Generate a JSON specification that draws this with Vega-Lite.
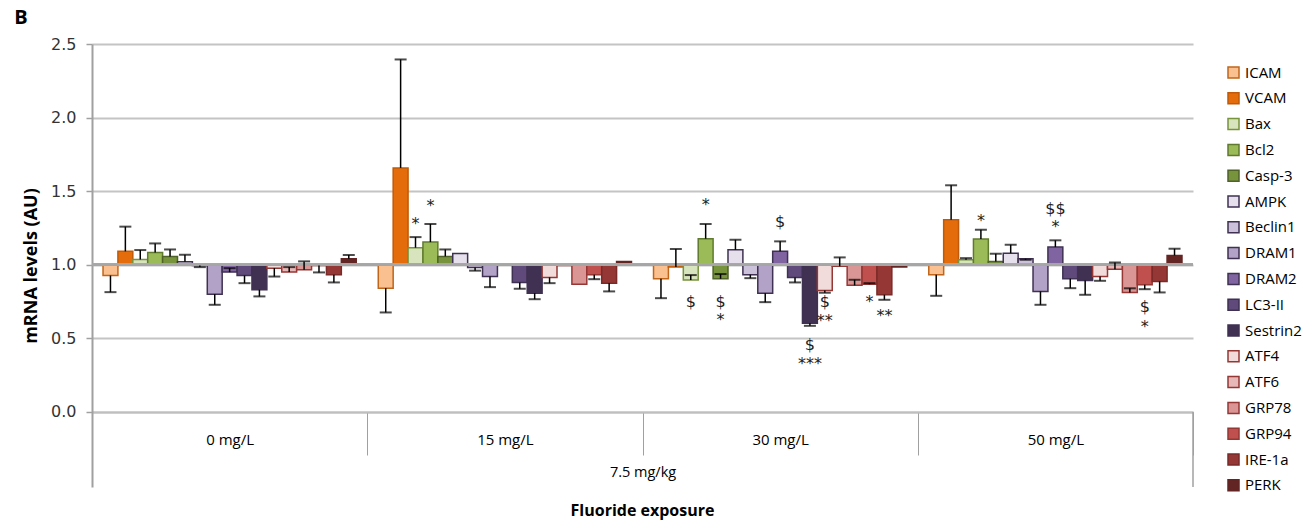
{
  "$schema": "https://vega.github.io/schema/vega-lite/v6.json",
  "width": 1101,
  "height": 443,
  "autosize": "none",
  "padding": {"left": 92, "top": 44, "right": 122, "bottom": 44},
  "background": "white",
  "config": {"view": {"stroke": null}},
  "title": {"text": "Fluoride exposure", "orient": "bottom", "anchor": "middle", "frame": "group", "font": "Open Sans", "fontSize": 16, "fontWeight": "bold", "color": "#000000", "offset": 9},
  "data": {"values": [
    {"g": "0 mg/L", "gene": "ICAM", "v": 0.927, "e": 0.814},
    {"g": "0 mg/L", "gene": "VCAM", "v": 1.091, "e": 1.259},
    {"g": "0 mg/L", "gene": "Bax", "v": 1.036, "e": 1.10},
    {"g": "0 mg/L", "gene": "Bcl2", "v": 1.084, "e": 1.145},
    {"g": "0 mg/L", "gene": "Casp-3", "v": 1.057, "e": 1.104},
    {"g": "0 mg/L", "gene": "AMPK", "v": 1.02, "e": 1.068},
    {"g": "0 mg/L", "gene": "Beclin1", "v": 0.995, "e": 0.984},
    {"g": "0 mg/L", "gene": "DRAM1", "v": 0.80, "e": 0.728},
    {"g": "0 mg/L", "gene": "DRAM2", "v": 0.95, "e": 0.977},
    {"g": "0 mg/L", "gene": "LC3-II", "v": 0.927, "e": 0.875},
    {"g": "0 mg/L", "gene": "Sestrin2", "v": 0.83, "e": 0.785},
    {"g": "0 mg/L", "gene": "ATF4", "v": 0.977, "e": 0.92},
    {"g": "0 mg/L", "gene": "ATF6", "v": 0.95, "e": 0.984},
    {"g": "0 mg/L", "gene": "GRP78", "v": 0.966, "e": 1.023},
    {"g": "0 mg/L", "gene": "GRP94", "v": 0.995, "e": 0.948},
    {"g": "0 mg/L", "gene": "IRE-1a", "v": 0.932, "e": 0.88},
    {"g": "0 mg/L", "gene": "PERK", "v": 1.041, "e": 1.066},
    {"g": "15 mg/L", "gene": "ICAM", "v": 0.841, "e": 0.676},
    {"g": "15 mg/L", "gene": "VCAM", "v": 1.658, "e": 2.395},
    {"g": "15 mg/L", "gene": "Bax", "v": 1.116, "e": 1.188},
    {"g": "15 mg/L", "gene": "Bcl2", "v": 1.154, "e": 1.277},
    {"g": "15 mg/L", "gene": "Casp-3", "v": 1.057, "e": 1.104},
    {"g": "15 mg/L", "gene": "AMPK", "v": 1.077, "e": null},
    {"g": "15 mg/L", "gene": "Beclin1", "v": 0.982, "e": 0.96},
    {"g": "15 mg/L", "gene": "DRAM1", "v": 0.92, "e": 0.848},
    {"g": "15 mg/L", "gene": "DRAM2", "v": 1.0, "e": null},
    {"g": "15 mg/L", "gene": "LC3-II", "v": 0.88, "e": 0.837},
    {"g": "15 mg/L", "gene": "Sestrin2", "v": 0.807, "e": 0.766},
    {"g": "15 mg/L", "gene": "ATF4", "v": 0.914, "e": 0.875},
    {"g": "15 mg/L", "gene": "ATF6", "v": 0.995, "e": null},
    {"g": "15 mg/L", "gene": "GRP78", "v": 0.868, "e": null},
    {"g": "15 mg/L", "gene": "GRP94", "v": 0.932, "e": 0.902},
    {"g": "15 mg/L", "gene": "IRE-1a", "v": 0.875, "e": 0.819},
    {"g": "15 mg/L", "gene": "PERK", "v": 1.023, "e": null},
    {"g": "30 mg/L", "gene": "ICAM", "v": 0.905, "e": 0.773},
    {"g": "30 mg/L", "gene": "VCAM", "v": 0.985, "e": 1.107},
    {"g": "30 mg/L", "gene": "Bax", "v": 0.896, "e": 0.93},
    {"g": "30 mg/L", "gene": "Bcl2", "v": 1.177, "e": 1.277},
    {"g": "30 mg/L", "gene": "Casp-3", "v": 0.905, "e": 0.937},
    {"g": "30 mg/L", "gene": "AMPK", "v": 1.102, "e": 1.17},
    {"g": "30 mg/L", "gene": "Beclin1", "v": 0.932, "e": 0.909},
    {"g": "30 mg/L", "gene": "DRAM1", "v": 0.807, "e": 0.746},
    {"g": "30 mg/L", "gene": "DRAM2", "v": 1.091, "e": 1.159},
    {"g": "30 mg/L", "gene": "LC3-II", "v": 0.914, "e": 0.88},
    {"g": "30 mg/L", "gene": "Sestrin2", "v": 0.603, "e": 0.585},
    {"g": "30 mg/L", "gene": "ATF4", "v": 0.825, "e": 0.81},
    {"g": "30 mg/L", "gene": "ATF6", "v": 0.99, "e": 1.05},
    {"g": "30 mg/L", "gene": "GRP78", "v": 0.86, "e": 0.898},
    {"g": "30 mg/L", "gene": "GRP94", "v": 0.868, "e": 0.875},
    {"g": "30 mg/L", "gene": "IRE-1a", "v": 0.796, "e": 0.762},
    {"g": "30 mg/L", "gene": "PERK", "v": 0.985, "e": null},
    {"g": "50 mg/L", "gene": "ICAM", "v": 0.932, "e": 0.789},
    {"g": "50 mg/L", "gene": "VCAM", "v": 1.306, "e": 1.54},
    {"g": "50 mg/L", "gene": "Bax", "v": 1.034, "e": 1.045},
    {"g": "50 mg/L", "gene": "Bcl2", "v": 1.175, "e": 1.238},
    {"g": "50 mg/L", "gene": "Casp-3", "v": 1.023, "e": 1.075},
    {"g": "50 mg/L", "gene": "AMPK", "v": 1.079, "e": 1.136},
    {"g": "50 mg/L", "gene": "Beclin1", "v": 1.041, "e": 1.034},
    {"g": "50 mg/L", "gene": "DRAM1", "v": 0.819, "e": 0.728},
    {"g": "50 mg/L", "gene": "DRAM2", "v": 1.12, "e": 1.166},
    {"g": "50 mg/L", "gene": "LC3-II", "v": 0.905, "e": 0.841},
    {"g": "50 mg/L", "gene": "Sestrin2", "v": 0.893, "e": 0.796},
    {"g": "50 mg/L", "gene": "ATF4", "v": 0.921, "e": 0.891},
    {"g": "50 mg/L", "gene": "ATF6", "v": 0.97, "e": 1.016},
    {"g": "50 mg/L", "gene": "GRP78", "v": 0.812, "e": 0.84},
    {"g": "50 mg/L", "gene": "GRP94", "v": 0.864, "e": 0.834},
    {"g": "50 mg/L", "gene": "IRE-1a", "v": 0.887, "e": 0.812},
    {"g": "50 mg/L", "gene": "PERK", "v": 1.063, "e": 1.109}
  ]},
  "encoding": {
    "x": {
      "field": "g", "type": "nominal",
      "scale": {"domain": ["0 mg/L", "15 mg/L", "30 mg/L", "50 mg/L"], "paddingInner": 0, "paddingOuter": 0},
      "axis": {
        "title": "7.5 mg/kg", "titleFont": "Open Sans", "titleFontSize": 14.5, "titleFontWeight": "normal", "titleColor": "#000000", "titlePadding": 10,
        "offset": -75, "orient": "bottom", "labelAngle": 0,
        "labelFont": "Open Sans", "labelFontSize": 15, "labelColor": "#000000", "labelPadding": -23, "labelBaseline": "top",
        "tickBand": "extent", "tickSize": 43, "tickColor": "#A0A0A0", "tickWidth": 1,
        "domainColor": "#BFBFBF", "domainWidth": 2, "grid": false
      }
    },
    "xOffset": {
      "field": "gene", "type": "nominal",
      "scale": {"domain": ["ICAM", "VCAM", "Bax", "Bcl2", "Casp-3", "AMPK", "Beclin1", "DRAM1", "DRAM2", "LC3-II", "Sestrin2", "ATF4", "ATF6", "GRP78", "GRP94", "IRE-1a", "PERK"], "paddingInner": 0, "paddingOuter": 0.74}
    }
  },
  "layer": [
    {
      "mark": {"type": "bar", "strokeWidth": 1.5},
      "encoding": {
        "y": {
          "field": "v", "type": "quantitative",
          "scale": {"domain": [-0.51, 2.5], "nice": false, "zero": false},
          "axis": {
            "title": "mRNA levels (AU)", "titleFont": "Open Sans", "titleFontSize": 18, "titleFontWeight": "bold", "titleColor": "#000000", "titlePadding": 10,
            "values": [0, 0.5, 1, 1.5, 2, 2.5], "format": ".1f",
            "labelFont": "DejaVu Sans", "labelFontSize": 16, "labelColor": "#333333", "labelPadding": 10,
            "tickSize": 6, "tickColor": "#A0A0A0", "tickWidth": 1.5,
            "domainColor": "#A0A0A0", "domainWidth": 2,
            "grid": true, "gridColor": "#C4C4C4", "gridWidth": 2
          }
        },
        "y2": {"datum": 1},
        "fill": {
          "field": "gene", "type": "nominal",
          "scale": {"domain": ["ICAM", "VCAM", "Bax", "Bcl2", "Casp-3", "AMPK", "Beclin1", "DRAM1", "DRAM2", "LC3-II", "Sestrin2", "ATF4", "ATF6", "GRP78", "GRP94", "IRE-1a", "PERK"],
                    "range": ["#FAC090", "#E46C0A", "#D7E4BD", "#9BBB59", "#77933C", "#E6E0EC", "#CCC1DA", "#B3A2C7", "#8064A2", "#604A7B", "#403152", "#F2DCDB", "#E6B9B8", "#D99694", "#C0504D", "#953735", "#632523"]},
          "legend": {"title": null, "orient": "none", "legendX": 1134, "legendY": 21, "symbolType": "square", "symbolSize": 121, "symbolStrokeWidth": 1.5, "labelFont": "Open Sans", "labelFontSize": 15, "labelColor": "#000000", "labelOffset": 4, "rowPadding": 8.8}
        },
        "stroke": {
          "field": "gene", "type": "nominal",
          "scale": {"domain": ["ICAM", "VCAM", "Bax", "Bcl2", "Casp-3", "AMPK", "Beclin1", "DRAM1", "DRAM2", "LC3-II", "Sestrin2", "ATF4", "ATF6", "GRP78", "GRP94", "IRE-1a", "PERK"],
                    "range": ["#C0651A", "#C05A0A", "#77933C", "#5F7A2E", "#4F6228", "#3F3151", "#3F3151", "#3F3151", "#3F3151", "#3F3151", "#3F3151", "#953735", "#953735", "#953735", "#953735", "#7A2A28", "#632523"]},
          "legend": {"title": null, "orient": "none", "legendX": 1134, "legendY": 21, "symbolType": "square", "symbolSize": 121, "symbolStrokeWidth": 1.5, "labelFont": "Open Sans", "labelFontSize": 15, "labelColor": "#000000", "labelOffset": 4, "rowPadding": 8.8}
        }
      }
    },
    {
      "mark": {"type": "rule", "color": "#A6A6A6", "strokeWidth": 2},
      "encoding": {"y": {"datum": 1}, "x": null, "xOffset": null}
    },
    {
      "mark": {"type": "rule", "color": "#000000", "strokeWidth": 1.5},
      "encoding": {"y": {"field": "v", "type": "quantitative"}, "y2": {"field": "e"}}
    },
    {
      "mark": {"type": "tick", "color": "#000000", "thickness": 2, "size": 12, "orient": "horizontal"},
      "encoding": {"y": {"field": "e", "type": "quantitative"}}
    },
    {
      "data": {"values": [
        {"g": "15 mg/L", "gene": "Bax", "t": "*", "y": 1.277},
        {"g": "15 mg/L", "gene": "Bcl2", "t": "*", "y": 1.40},
        {"g": "30 mg/L", "gene": "Bax", "t": "$", "y": 0.748},
        {"g": "30 mg/L", "gene": "Bcl2", "t": "*", "y": 1.408},
        {"g": "30 mg/L", "gene": "Casp-3", "t": "$", "y": 0.748},
        {"g": "30 mg/L", "gene": "Casp-3", "t": "*", "y": 0.626},
        {"g": "30 mg/L", "gene": "DRAM2", "t": "$", "y": 1.29},
        {"g": "30 mg/L", "gene": "Sestrin2", "t": "$", "y": 0.456},
        {"g": "30 mg/L", "gene": "Sestrin2", "t": "***", "y": 0.327},
        {"g": "30 mg/L", "gene": "ATF4", "t": "$", "y": 0.748},
        {"g": "30 mg/L", "gene": "ATF4", "t": "**", "y": 0.619},
        {"g": "30 mg/L", "gene": "GRP94", "t": "*", "y": 0.75},
        {"g": "30 mg/L", "gene": "IRE-1a", "t": "**", "y": 0.655},
        {"g": "50 mg/L", "gene": "Bcl2", "t": "*", "y": 1.295},
        {"g": "50 mg/L", "gene": "DRAM2", "t": "$$", "y": 1.379},
        {"g": "50 mg/L", "gene": "DRAM2", "t": "*", "y": 1.256},
        {"g": "50 mg/L", "gene": "GRP94", "t": "$", "y": 0.712},
        {"g": "50 mg/L", "gene": "GRP94", "t": "*", "y": 0.58}
      ]},
      "mark": {"type": "text", "font": "DejaVu Sans", "fontSize": 16, "fill": "#222222", "baseline": "middle", "align": "center"},
      "encoding": {"y": {"field": "y", "type": "quantitative"}, "text": {"field": "t"}}
    },
    {
      "data": {"values": [{"g": "50 mg/L", "lo": 0, "hi": -0.51}]},
      "mark": {"type": "rule", "color": "#A0A0A0", "strokeWidth": 1.5},
      "encoding": {"x": {"field": "g", "type": "nominal", "bandPosition": 1}, "xOffset": null, "y": {"field": "lo", "type": "quantitative"}, "y2": {"field": "hi"}}
    },
    {
      "data": {"values": [{"label": "B", "g": "0 mg/L", "yy": 2.5}]},
      "mark": {"type": "text", "font": "Open Sans", "fontSize": 20, "fontWeight": "bold", "color": "#000000", "align": "center", "baseline": "middle", "dx": -71, "dy": -26},
      "encoding": {"x": {"field": "g", "type": "nominal", "bandPosition": 0}, "xOffset": null, "y": {"field": "yy", "type": "quantitative"}, "text": {"field": "label"}}
    }
  ]
}
